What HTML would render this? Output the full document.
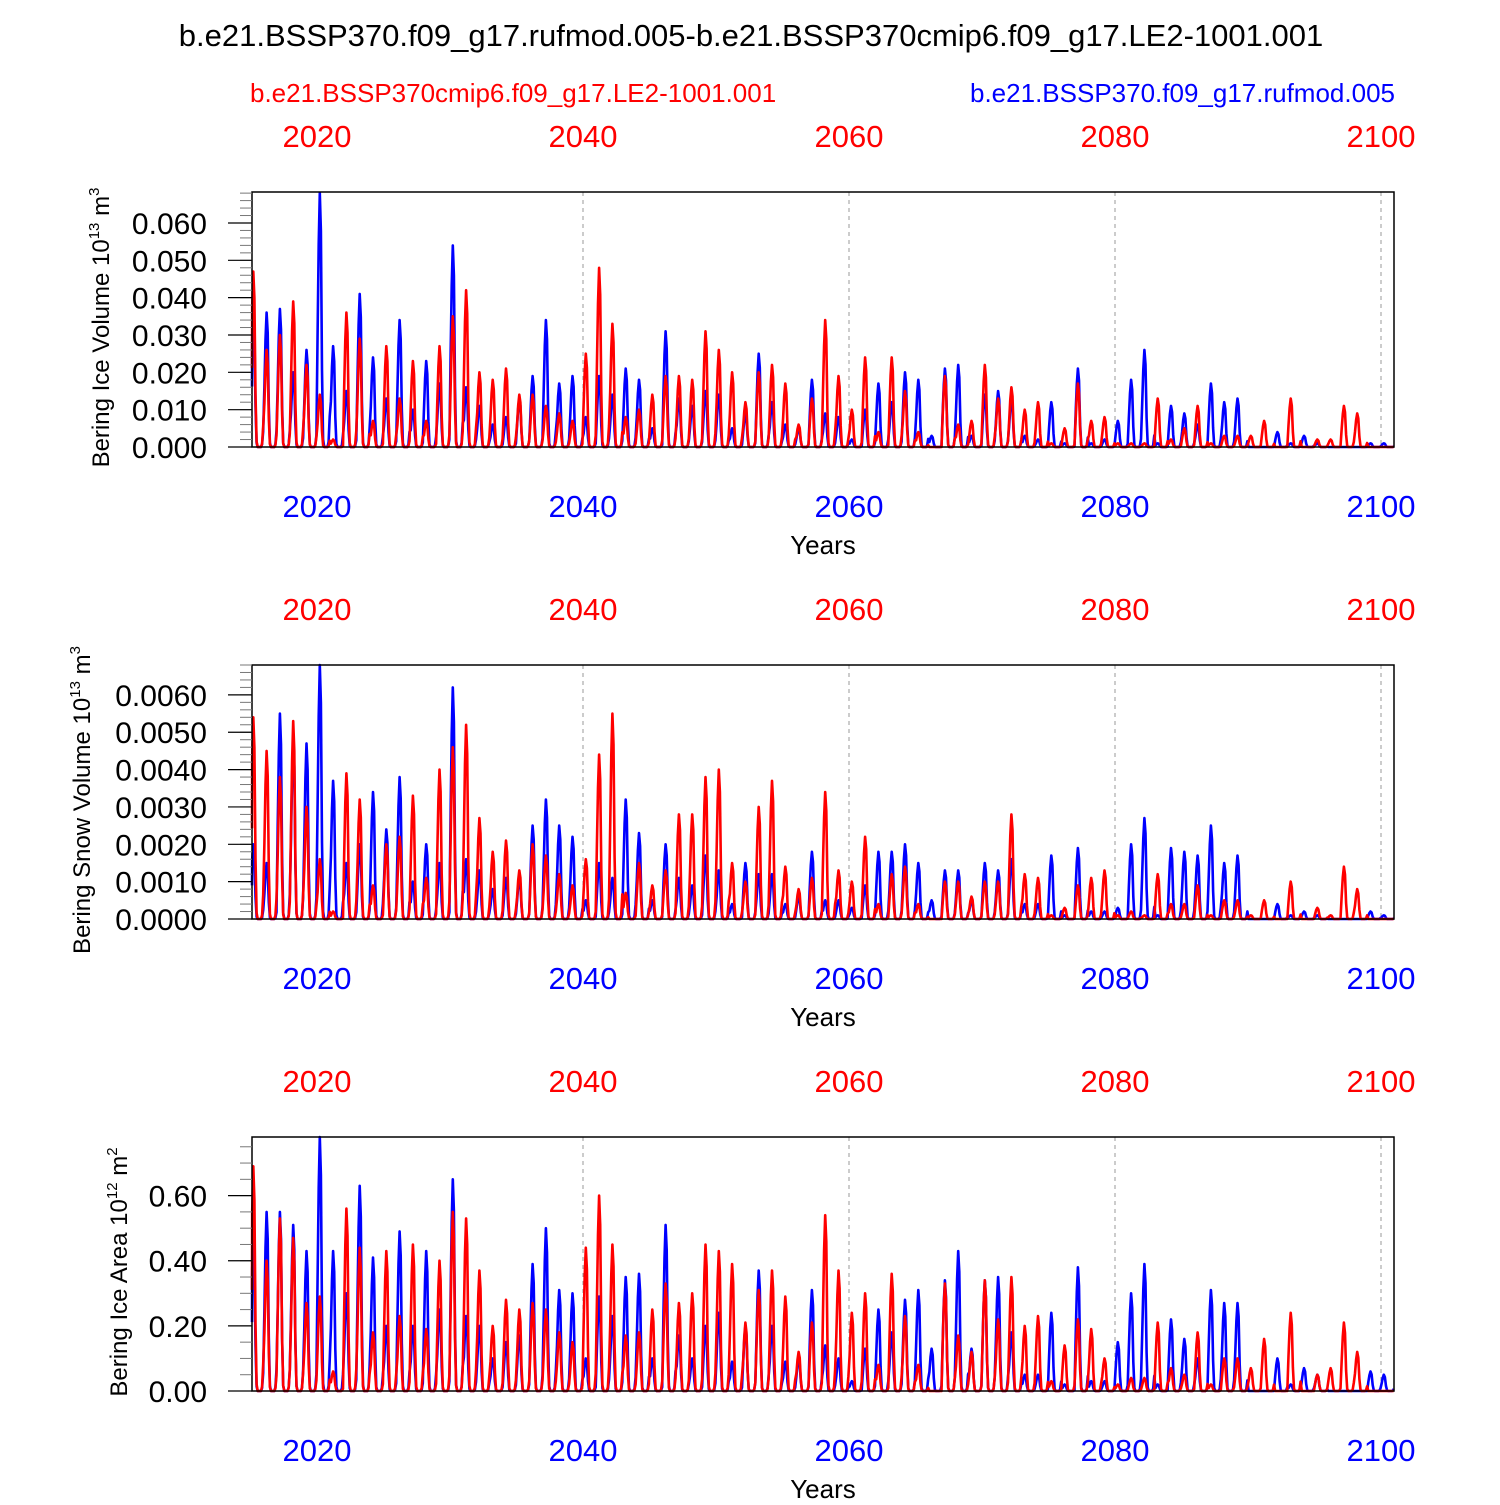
<!DOCTYPE html>
<html><head><meta charset="utf-8">
<style>
body{margin:0;background:#fff;}
svg text{font-family:"Liberation Sans",Arial,sans-serif;}
</style></head>
<body>
<svg id="chart" width="1500" height="1500" viewBox="0 0 1500 1500" xmlns="http://www.w3.org/2000/svg">
<text x="751" y="46" font-size="31" text-anchor="middle">b.e21.BSSP370.f09_g17.rufmod.005-b.e21.BSSP370cmip6.f09_g17.LE2-1001.001</text>
<text x="250" y="102" font-size="26" fill="#ff0000">b.e21.BSSP370cmip6.f09_g17.LE2-1001.001</text>
<text x="1395" y="102" font-size="26" fill="#0000ff" text-anchor="end">b.e21.BSSP370.f09_g17.rufmod.005</text>
</svg>
<script>
// Annual peak values, years 2015..2100
const years = [];
for (let y = 2015; y <= 2100; y++) years.push(y);
const iceVolBlue = [36,36,37,20,26,68,27,15,41,24,13,34,10,23,17,54,16,11,6,8,13,19,34,17,19,8,19,14,21,18,5,31,13,11,15,14,5,9,25,12,6,5,18,9,8,2,10,17,12,20,18,3,21,22,3,14,15,13,3,2,12,1,21,1,2,7,18,26,1,11,9,6,17,12,13,0,0,4,1,3,1,0,0,0,1,1];
const iceVolRed = [47,26,30,39,22,14,2,36,29,7,27,13,23,7,27,35,42,20,18,21,14,14,11,9,7,25,48,33,8,10,14,19,19,18,31,26,20,12,20,22,17,6,13,34,19,10,24,4,24,15,4,0,19,6,7,22,13,16,10,12,1,5,17,7,8,1,1,1,13,2,5,11,1,3,3,3,7,0,13,0,2,2,11,9,0,0];
const snowBlue = [20,15,55,48,47,68,37,15,20,34,24,38,10,20,15,62,16,13,8,11,11,25,32,25,22,5,15,11,32,23,5,20,11,9,17,13,4,15,12,12,4,6,18,5,5,3,9,18,18,20,15,5,13,13,5,15,13,16,4,4,17,1,19,2,2,3,20,27,1,19,18,17,25,15,17,0,0,4,1,2,1,0,0,0,2,1];
const snowRed = [54,45,38,53,30,16,2,39,32,9,20,22,33,11,40,46,52,27,18,21,13,20,17,12,9,16,44,55,7,15,9,13,28,28,38,40,15,10,30,37,14,8,11,34,13,10,22,4,12,14,4,0,10,10,6,10,10,28,12,11,1,3,9,11,13,1,2,1,12,4,4,9,1,5,5,1,5,0,10,0,3,1,14,8,0,0];
const areaBlue = [47,55,55,51,43,78,43,30,63,41,20,49,20,43,25,65,23,20,10,15,17,39,50,31,30,10,29,23,35,36,10,51,17,10,20,24,9,20,37,20,9,10,31,14,10,3,13,25,18,28,31,13,34,43,13,34,35,18,5,5,24,2,38,3,3,15,30,39,2,22,16,10,31,27,27,0,0,10,2,7,5,0,0,0,6,5];
const areaRed = [69,40,53,47,27,29,6,56,44,18,43,23,45,19,40,55,53,37,20,28,25,27,25,18,15,44,60,45,17,18,25,33,27,30,45,43,39,21,31,37,29,12,21,54,37,24,30,8,36,23,8,0,33,17,12,34,22,35,20,23,3,14,22,19,10,2,4,4,21,7,5,18,2,10,10,7,16,0,24,0,5,7,21,12,0,0];
// relative monthly shape of each season (Jan..Dec)
const season = [0.45,0.8,1.0,0.85,0.3,0.03,0,0,0,0,0.02,0.12];

const svg = document.getElementById('chart');
const NS = 'http://www.w3.org/2000/svg';
function mk(tag, attrs){const e=document.createElementNS(NS,tag);for(const k in attrs)e.setAttribute(k,attrs[k]);svg.appendChild(e);return e;}
const X0=252, X1=1394;
const xs = t => 317 + (t-2020)*13.3;

const panels = [
 {top:192,bot:447,max:0.0683,ticks:[0,0.01,0.02,0.03,0.04,0.05,0.06],fmt:3,minor:0.002,blue:iceVolBlue,red:iceVolRed,scale:0.001,title:'Bering Ice Volume 10',sup:'13',unit:' m',usup:'3',tx:109,name:'ice-volume'},
 {top:665,bot:919,max:0.0068,ticks:[0,0.001,0.002,0.003,0.004,0.005,0.006],fmt:4,minor:0.0002,blue:snowBlue,red:snowRed,scale:0.0001,title:'Bering Snow Volume 10',sup:'13',unit:' m',usup:'3',tx:90,name:'snow-volume'},
 {top:1137,bot:1391,max:0.78,ticks:[0,0.2,0.4,0.6],fmt:2,minor:0.05,blue:areaBlue,red:areaRed,scale:0.01,title:'Bering Ice Area 10',sup:'12',unit:' m',usup:'2',tx:127,name:'ice-area'}
];

panels.forEach((p,pi)=>{
  const ys = v => p.bot - v/p.max*(p.bot-p.top);
  [2040,2060,2080,2100].forEach(y=>{
    const g=mk('line',{x1:xs(y),x2:xs(y),y1:p.top,y2:p.bot,stroke:'#999','stroke-width':1,'stroke-dasharray':'4,4'});
    
    
  });
  [['blue',p.blue,'#0000ff'],['red',p.red,'#ff0000']].forEach(([nm,arr,col])=>{
    let d='';
    years.forEach((yr,i)=>{
      season.forEach((s,m)=>{
        const t=yr+(m+0.5)/12;
        const x=Math.max(X0,xs(t));
        d+=(d?'L':'M')+x.toFixed(1)+','+ys(arr[i]*p.scale*s).toFixed(1);
      });
    });
    const l=mk('path',{d:d,fill:'none',stroke:col,'stroke-width':2.6,'stroke-linejoin':'round'});
    
    
  });
  const f=mk('rect',{x:X0,y:p.top,width:X1-X0,height:p.bot-p.top,fill:'none',stroke:'#000','stroke-width':1.5});
  
  
  for(let v=0; v<=p.max+1e-9; v+=p.minor){
    const t=mk('line',{x1:X0-12,x2:X0,y1:ys(v),y2:ys(v),stroke:'#777','stroke-width':1});
    
    
  }
  p.ticks.forEach(v=>{
    const t=mk('line',{x1:X0-24,x2:X0,y1:ys(v),y2:ys(v),stroke:'#000','stroke-width':1.2});
    
    
    const tx=mk('text',{x:X0-45,y:ys(v)+11,'font-size':30,'text-anchor':'end'});
    tx.textContent=v.toFixed(p.fmt);
    
    
  });
  const cy=(p.top+p.bot)/2+8;
  const yt=mk('text',{x:p.tx,y:cy,'font-size':24,'text-anchor':'middle',transform:`rotate(-90 ${p.tx} ${cy})`});
  yt.innerHTML=`${p.title}<tspan dy="-10" font-size="15">${p.sup}</tspan><tspan dy="10">${p.unit}</tspan><tspan dy="-10" font-size="15">${p.usup}</tspan>`;
  
  
  [2020,2040,2060,2080,2100].forEach(y=>{
    const a=mk('text',{x:xs(y),y:p.top-45,'font-size':31,'text-anchor':'middle',fill:'#ff0000'});
    a.textContent=y;
    
    
    const b=mk('text',{x:xs(y),y:p.bot+70,'font-size':31,'text-anchor':'middle',fill:'#0000ff'});
    b.textContent=y;
    
    
  });
  const xt=mk('text',{x:823,y:p.bot+107,'font-size':26,'text-anchor':'middle'});
  xt.textContent='Years';
  
  
});
</script>
</body></html>
